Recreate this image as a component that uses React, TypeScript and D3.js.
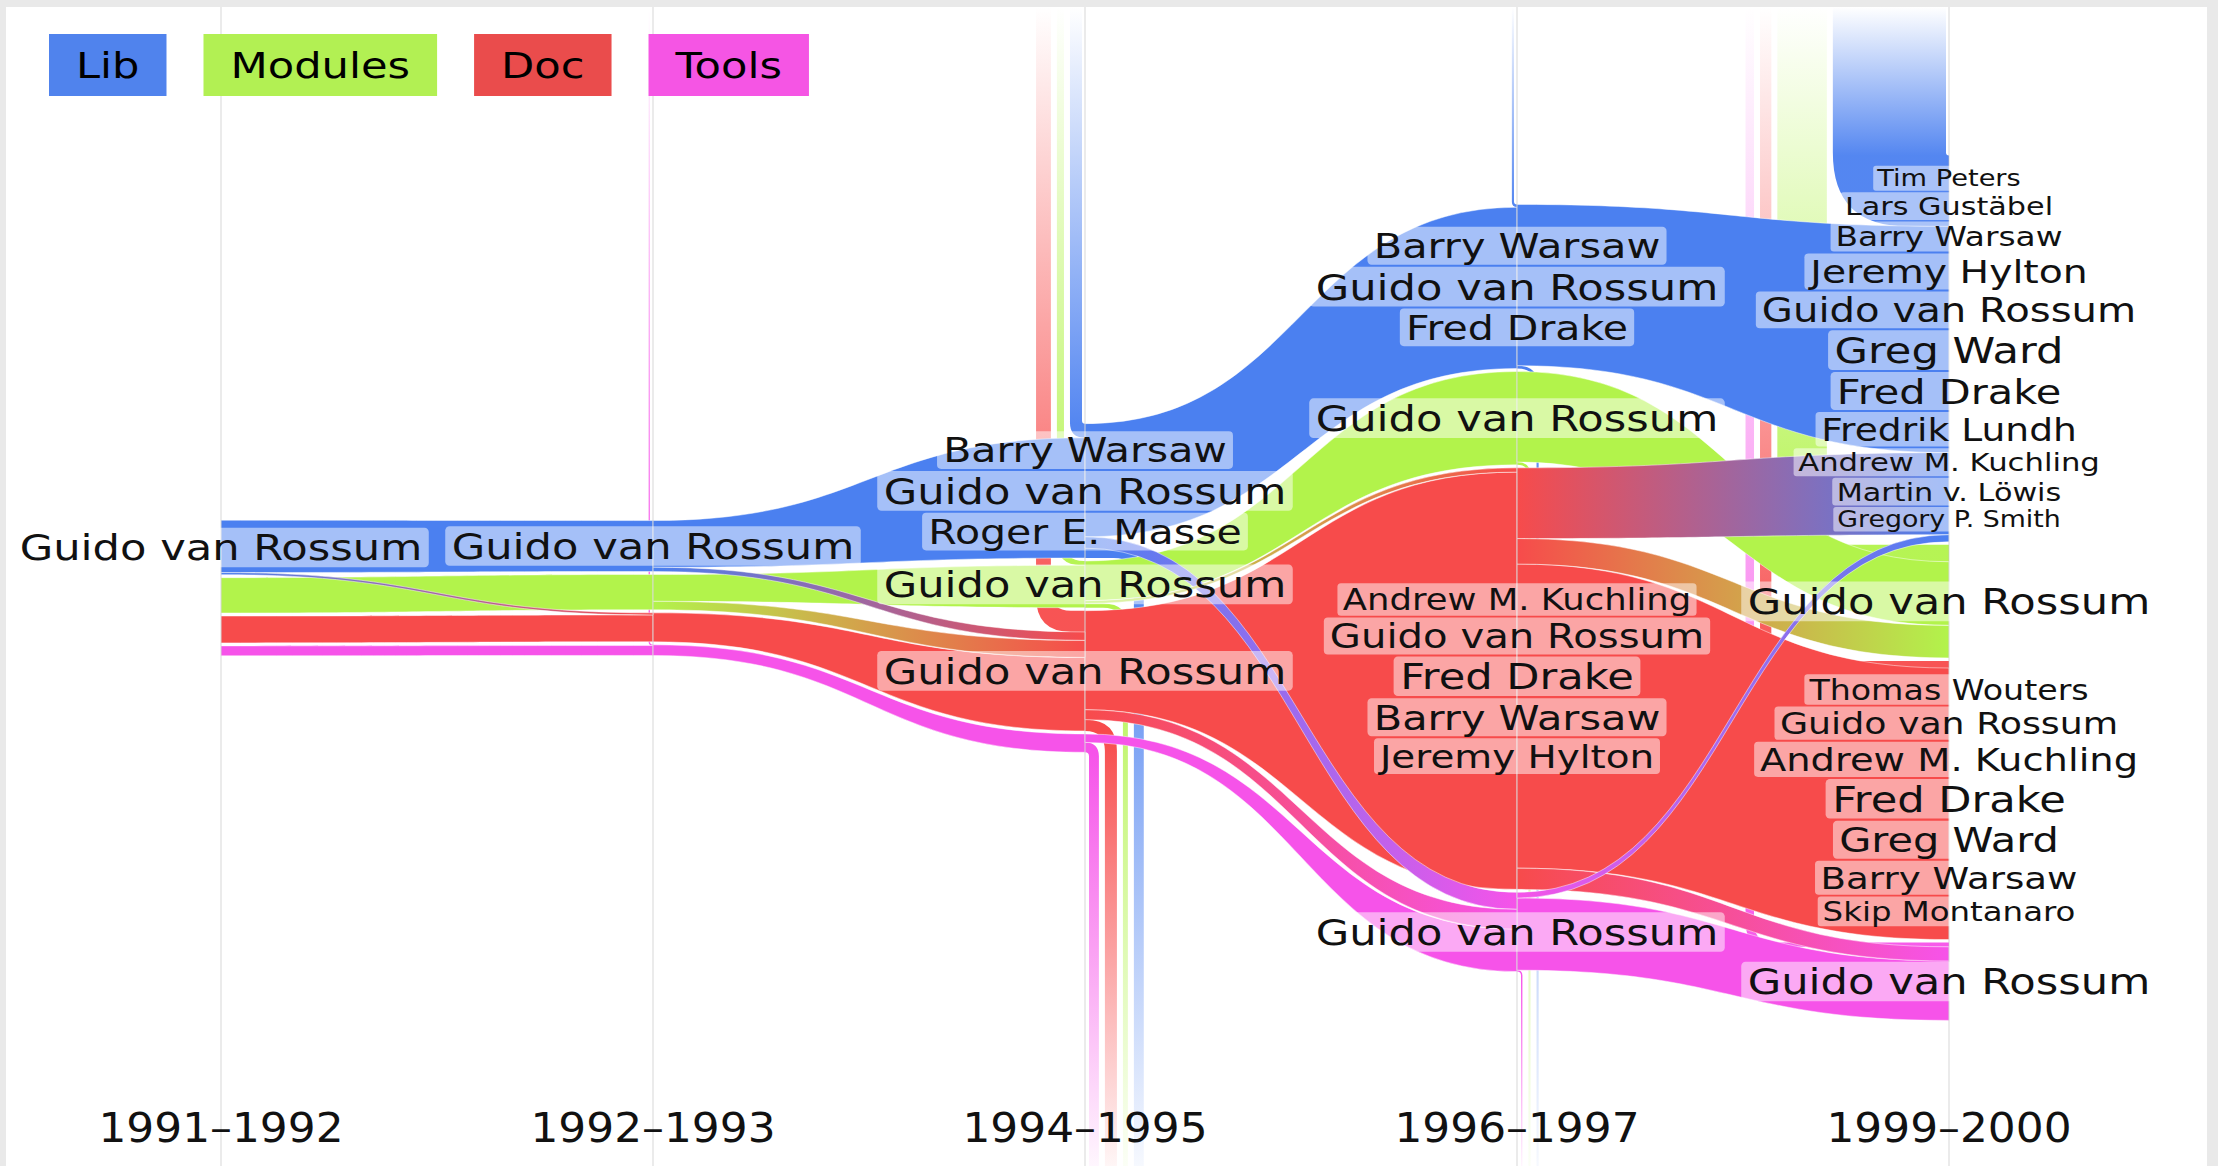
import React from "react";
import * as d3 from "d3";

const periods = ["1991–1992", "1992–1993", "1994–1995", "1996–1997", "1999–2000"];
const categories = ["Lib", "Modules", "Doc", "Tools"];
const colors = ["#4b80f0", "#b2f34b", "#f74b4b", "#f653e9"];
const legendColors = ["#5083ed", "#b2f053", "#ea4c4c", "#f555e4"];

// flows between consecutive periods: [from period, source, target, size at source, size at target]
const flows: [number, string, string, number, number][] = [
  [0, "Lib", "Lib", 37, 36],
  [0, "Lib", "Doc", 1.5, 1.5],
  [0, "Modules", "Modules", 25, 25],
  [0, "Doc", "Doc", 19, 19],
  [0, "Tools", "Tools", 7, 7],
  [1, "Lib", "Lib", 33, 85],
  [1, "Lib", "Doc", 3, 6],
  [1, "Modules", "Modules", 19, 30],
  [1, "Modules", "Doc", 6, 12],
  [1, "Doc", "Doc", 20.5, 52],
  [1, "Tools", "Tools", 7.5, 13],
  [2, "Lib", "Lib", 80, 114],
  [2, "Lib", "Tools", 8, 12],
  [2, "Modules", "Modules", 28, 66],
  [2, "Modules", "Doc", 2, 3],
  [2, "Doc", "Doc", 70, 295],
  [2, "Doc", "Tools", 7, 14],
  [2, "Tools", "Tools", 6, 30],
  [3, "Lib", "Lib", 114, 160],
  [3, "Modules", "Modules", 64, 45],
  [3, "Doc", "Lib", 50, 58],
  [3, "Doc", "Modules", 18, 23],
  [3, "Doc", "Doc", 215, 192],
  [3, "Doc", "Tools", 15, 10],
  [3, "Tools", "Lib", 4, 5],
  [3, "Tools", "Tools", 51, 42],
];

// newcomers: [period, category, stream width, size at period]
const joins: [number, string, number, number][] = [
  [1, "Tools", 1, 0.5],
  [2, "Lib", 8.5, 10],
  [2, "Modules", 5, 3],
  [2, "Doc", 10.5, 15],
  [3, "Lib", 1.5, 2],
  [4, "Lib", 80, 50],
  [4, "Modules", 35, 12],
  [4, "Doc", 8, 5],
  [4, "Tools", 6, 3],
];

// departures: [period, category, size at period, stream width]
const leaves: [number, string, number, number][] = [
  [2, "Lib", 7, 7],
  [2, "Modules", 3, 3.5],
  [2, "Doc", 8, 8.5],
  [2, "Tools", 7, 7],
  [3, "Lib", 2, 1.5],
  [3, "Modules", 2, 1.5],
  [3, "Tools", 1, 1],
];

// authors shown per period and category (share of the largest)
const authors: [number, string, string, number][] = [
  [0, "Lib", "Guido van Rossum", 100],
  [1, "Lib", "Guido van Rossum", 100],
  [2, "Lib", "Barry Warsaw", 95],
  [2, "Lib", "Guido van Rossum", 100],
  [2, "Lib", "Roger E. Masse", 95],
  [2, "Modules", "Guido van Rossum", 100],
  [2, "Doc", "Guido van Rossum", 100],
  [3, "Lib", "Barry Warsaw", 96],
  [3, "Lib", "Guido van Rossum", 100],
  [3, "Lib", "Fred Drake", 95],
  [3, "Modules", "Guido van Rossum", 100],
  [3, "Doc", "Andrew M. Kuchling", 82],
  [3, "Doc", "Guido van Rossum", 93],
  [3, "Doc", "Fred Drake", 100],
  [3, "Doc", "Barry Warsaw", 96],
  [3, "Doc", "Jeremy Hylton", 90],
  [3, "Tools", "Guido van Rossum", 100],
  [4, "Lib", "Tim Peters", 63],
  [4, "Lib", "Lars Gustäbel", 70],
  [4, "Lib", "Barry Warsaw", 76],
  [4, "Lib", "Jeremy Hylton", 91],
  [4, "Lib", "Guido van Rossum", 93],
  [4, "Lib", "Greg Ward", 100],
  [4, "Lib", "Fred Drake", 96],
  [4, "Lib", "Fredrik Lundh", 87],
  [4, "Lib", "Andrew M. Kuchling", 71],
  [4, "Lib", "Martin v. Löwis", 70],
  [4, "Lib", "Gregory P. Smith", 62],
  [4, "Modules", "Guido van Rossum", 100],
  [4, "Doc", "Thomas Wouters", 77],
  [4, "Doc", "Guido van Rossum", 84],
  [4, "Doc", "Andrew M. Kuchling", 89],
  [4, "Doc", "Fred Drake", 100],
  [4, "Doc", "Greg Ward", 96],
  [4, "Doc", "Barry Warsaw", 86],
  [4, "Doc", "Skip Montanaro", 75],
  [4, "Tools", "Guido van Rossum", 100],
];

const FONT = '"DejaVu Sans", sans-serif';
let ctx: CanvasRenderingContext2D | null = null;
const textWidth = (t: string, size: number) => {
  if (!ctx) ctx = document.createElement("canvas").getContext("2d");
  ctx!.font = `${size}px "DejaVu Sans"`;
  return ctx!.measureText(t).width;
};

const ribbonPath = (x0: number, a0: number, a1: number, x1: number, b0: number, b1: number) => {
  const m = (x0 + x1) / 2;
  const p = d3.path();
  p.moveTo(x0, a0);
  p.bezierCurveTo(m, a0, m, b0, x1, b0);
  p.lineTo(x1, b1);
  p.bezierCurveTo(m, b1, m, a1, x0, a1);
  p.closePath();
  return p.toString();
};

export default function App() {
  const W = 2218, H = 1166;
  const top = 7;
  const cy = 588;
  const gap = 3;
  const x = d3.scalePoint<string>().domain(periods).range([221, 1949]);
  const thick = d3.scaleLinear().domain([0, 100]).range([0, 141.45]);
  const font = d3.scaleLinear().domain([0, 100]).range([0, 36]);
  const sx = 1.2;
  const ci = (c: string) => categories.indexOf(c);

  const totIn = periods.map(() => categories.map(() => 0));
  const totOut = periods.map(() => categories.map(() => 0));
  flows.forEach(([p, s, t, sv, tv]) => { totOut[p][ci(s)] += sv; totIn[p + 1][ci(t)] += tv; });
  joins.forEach(([p, c, , v]) => { totIn[p][ci(c)] += v; });
  leaves.forEach(([p, c, v]) => { totOut[p][ci(c)] += v; });

  const segs = periods.map((_, p) => {
    const hs = categories.map((_, i) => thick(Math.max(totIn[p][i], totOut[p][i])));
    let y = cy - (d3.sum(hs) + gap * (hs.length - 1)) / 2;
    return hs.map(h => { const s = { y0: y, y1: y + h }; y += h + gap; return s; });
  });

  const ribbons: any[] = flows.map(([p, s, t, sv, tv]) => ({ p, s: ci(s), t: ci(t), sv, tv }));
  const ins: any[] = joins.map(([p, c, w, v]) => ({ p, c: ci(c), w, v }));
  const outs: any[] = leaves.map(([p, c, v, w]) => ({ p, c: ci(c), w, v }));

  periods.forEach((name, p) => {
    categories.forEach((_, i) => {
      let oc = segs[p][i].y0;
      ribbons.filter(r => r.p === p && r.s === i).sort((a, b) => a.t - b.t).forEach(r => {
        r.a0 = oc; r.a1 = oc + thick(r.sv); oc = r.a1;
      });
      outs.filter(l => l.p === p && l.c === i).forEach(l => { l.y0 = oc; l.y1 = oc + thick(l.v); oc = l.y1; });
      let ic = segs[p][i].y0;
      ins.filter(j => j.p === p && j.c === i).forEach(j => { j.y0 = ic; j.y1 = ic + thick(j.v); ic = j.y1; });
      ribbons.filter(r => r.p + 1 === p && r.t === i).sort((a, b) => a.s - b.s).forEach(r => {
        r.b0 = ic; r.b1 = ic + thick(r.tv); ic = r.b1;
      });
    });
    const cx = x(name)!;
    let xr = cx - 3;
    ins.filter(j => j.p === p).sort((a, b) => a.c - b.c).forEach(j => {
      j.xR = xr; j.xL = xr - thick(j.w); xr = j.xL - 6;
    });
    let xl = cx + 4;
    outs.filter(l => l.p === p).sort((a, b) => b.c - a.c).forEach(l => {
      l.xL = xl; l.xR = xl + thick(l.w); xl = l.xR + 6;
    });
  });

  const joinPath = (j: any) => {
    const cx = x(periods[j.p])!;
    const w = j.xR - j.xL, h = j.y1 - j.y0;
    const ri = Math.min(cx - j.xR, 20);
    const ro = ri + Math.min(w, h);
    const p = d3.path();
    p.moveTo(j.xL, top);
    p.lineTo(j.xL, j.y1 - ro);
    p.quadraticCurveTo(j.xL, j.y1, j.xL + ro, j.y1);
    p.lineTo(cx, j.y1);
    p.lineTo(cx, j.y0);
    p.lineTo(j.xR + ri, j.y0);
    p.quadraticCurveTo(j.xR, j.y0, j.xR, j.y0 - ri);
    p.lineTo(j.xR, top);
    p.closePath();
    return p.toString();
  };

  const leavePath = (l: any) => {
    const cx = x(periods[l.p])!;
    const w = l.xR - l.xL, h = l.y1 - l.y0;
    const ri = Math.min(l.xL - cx, 20);
    const ro = ri + Math.min(w, h);
    const p = d3.path();
    p.moveTo(cx, l.y0);
    p.lineTo(l.xR - ro, l.y0);
    p.quadraticCurveTo(l.xR, l.y0, l.xR, l.y0 + ro);
    p.lineTo(l.xR, H);
    p.lineTo(l.xL, H);
    p.lineTo(l.xL, l.y1 + ri);
    p.quadraticCurveTo(l.xL, l.y1, l.xL - ri, l.y1);
    p.lineTo(cx, l.y1);
    p.closePath();
    return p.toString();
  };

  const labels: any[] = [];
  periods.forEach((name, p) => categories.forEach((c, i) => {
    const list = authors.filter(a => a[0] === p && a[1] === c);
    if (!list.length) return;
    const sizes = list.map(a => font(a[3]));
    const lh = sizes.map(s => s * 1.16);
    const seg = segs[p][i];
    let y = (seg.y0 + seg.y1) / 2 - d3.sum(lh) / 2;
    list.forEach((a, k) => {
      labels.push({ x: x(name)!, y: y + lh[k] / 2, size: sizes[k], text: a[2] });
      y += lh[k];
    });
  }));

  const same = ribbons.filter(r => r.s === r.t);
  const cross = ribbons.filter(r => r.s !== r.t);

  // legend layout
  const legSize = 36, legSx = 1.2, legPad = 27;
  let lx = 49;
  const legend = categories.map((c, i) => {
    const w = textWidth(c, legSize) * legSx + legPad * 2;
    const item = { c, i, x: lx, w };
    lx += w + 37;
    return item;
  });

  return (
    <div style={{ position: "fixed", left: 0, top: 0 }}>
      <svg width={W} height={H} style={{ display: "block" }}>
        <defs>
          {cross.map((r, k) => (
            <linearGradient key={k} id={`rg${k}`} gradientUnits="userSpaceOnUse"
              x1={x(periods[r.p])} x2={x(periods[r.p + 1])} y1={0} y2={0}>
              <stop offset="0" stopColor={colors[r.s]} />
              <stop offset="1" stopColor={colors[r.t]} />
            </linearGradient>
          ))}
          {ins.map((j, k) => (
            <linearGradient key={k} id={`jg${k}`} gradientUnits="userSpaceOnUse" x1={0} x2={0} y1={top} y2={j.y0}>
              <stop offset="0" stopColor={colors[j.c]} stopOpacity={0} />
              <stop offset="1" stopColor={colors[j.c]} stopOpacity={0.95} />
            </linearGradient>
          ))}
          {outs.map((l, k) => (
            <linearGradient key={k} id={`lg${k}`} gradientUnits="userSpaceOnUse" x1={0} x2={0} y1={l.y1} y2={H}>
              <stop offset="0" stopColor={colors[l.c]} stopOpacity={1} />
              <stop offset="1" stopColor={colors[l.c]} stopOpacity={0.05} />
            </linearGradient>
          ))}
        </defs>

        <rect width={W} height={H} fill="#e9e9e9" />
        <rect x={6} y={top} width={2201} height={H - top} fill="#ffffff" />

        {ins.map((j, k) => <path key={k} d={joinPath(j)} fill={`url(#jg${k})`} />)}
        {outs.map((l, k) => <path key={k} d={leavePath(l)} fill={`url(#lg${k})`} />)}

        {same.map((r, k) => (
          <path key={k}
            d={ribbonPath(x(periods[r.p])!, r.a0, r.a1, x(periods[r.p + 1])!, r.b0, r.b1)}
            fill={colors[r.s]} stroke="#fff" strokeWidth={0.8} strokeOpacity={0.6} />
        ))}
        {cross.map((r, k) => (
          <path key={k}
            d={ribbonPath(x(periods[r.p])!, r.a0, r.a1, x(periods[r.p + 1])!, r.b0, r.b1)}
            fill={`url(#rg${k})`} stroke="#fff" strokeWidth={0.8} strokeOpacity={0.6} />
        ))}

        {periods.map(p => (
          <line key={p} x1={x(p)} x2={x(p)} y1={top} y2={H} stroke="#c4c4c4" strokeOpacity={0.45} strokeWidth={1.5} />
        ))}

        {labels.map((d, k) => {
          const bw = textWidth(d.text, d.size) * sx + d.size * 0.36;
          const bh = d.size * 1.1;
          return (
            <g key={k}>
              <rect x={d.x - bw / 2} y={d.y - bh / 2} width={bw} height={bh} rx={d.size * 0.12}
                fill="#fff" fillOpacity={0.5} />
              <text transform={`translate(${d.x},${d.y + d.size * 0.36}) scale(${sx},1)`} textAnchor="middle"
                fontFamily={FONT} fontSize={d.size} fill="#111">{d.text}</text>
            </g>
          );
        })}

        {legend.map(l => (
          <g key={l.c}>
            <rect x={l.x} y={34} width={l.w} height={62} fill={legendColors[l.i]} />
            <text transform={`translate(${l.x + l.w / 2},${65 + legSize * 0.36}) scale(${legSx},1)`}
              textAnchor="middle" fontFamily={FONT} fontSize={legSize} fill="#000">{l.c}</text>
          </g>
        ))}

        {periods.map(p => (
          <text key={p} transform={`translate(${x(p)},1142) scale(1.07,1)`} textAnchor="middle"
            fontFamily={FONT} fontSize={41} fill="#111">{p}</text>
        ))}
      </svg>
    </div>
  );
}
